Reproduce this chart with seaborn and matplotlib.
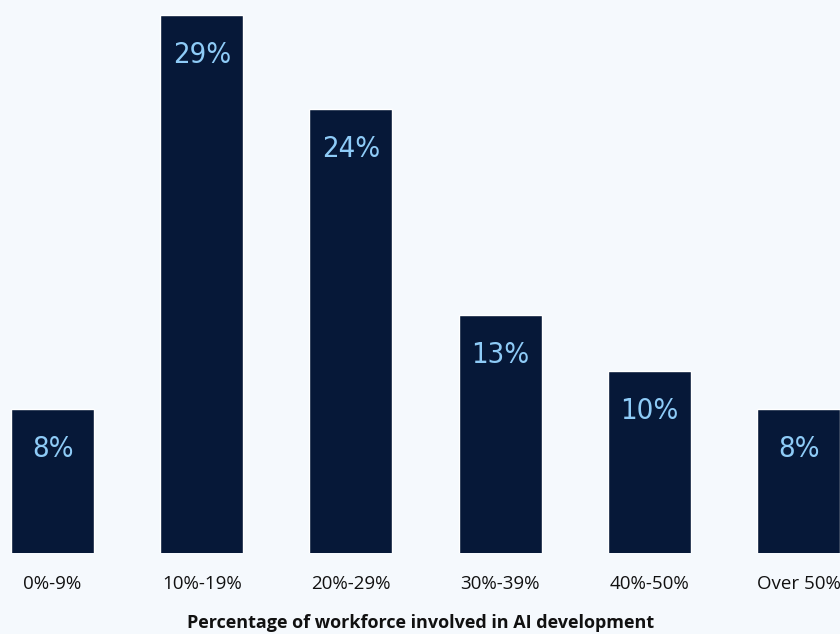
import matplotlib
matplotlib.use("Agg")
import matplotlib.pyplot as plt
import seaborn as sns
import pandas as pd

# Share of workforce involved in AI development
categories = ["0%-9%", "10%-19%", "20%-29%", "30%-39%", "40%-50%", "Over 50%"]
values = [8, 29, 24, 13, 10, 8]
value_labels = ["8%", "29%", "24%", "13%", "10%", "8%"]

BG = "#f5f9fd"
NAVY = "#061838"
LABEL_BLUE = "#8ecbf7"

sns.set_theme(style="white")
plt.rcParams["font.family"] = ["Open Sans", "DejaVu Sans"]

df = pd.DataFrame({"band": categories, "share": values})

fig = plt.figure(figsize=(8.4, 6.34), dpi=100, facecolor=BG)
ax = fig.add_axes([0, (634 - 553) / 634, 1, 553 / 634])
ax.set_facecolor(BG)

sns.barplot(data=df, x="band", y="share", color=NAVY, saturation=1,
            width=0.556, ax=ax)

ax.set_xlim(-0.352, 5.278)
ax.set_ylim(0.3, 29.79)
for s in ax.spines.values():
    s.set_visible(False)
ax.set_yticks([])
ax.set_ylabel("")
ax.set_xlabel("")
ax.tick_params(axis="x", length=0, pad=16, labelsize=13.5, labelcolor="#111111")

# value labels inside the top of each bar, in a narrow face
for i, (v, lab) in enumerate(zip(values, value_labels)):
    ax.annotate(lab, xy=(i, v), xytext=(0, -40), textcoords="offset pixels",
                ha="center", va="center", color=LABEL_BLUE, fontsize=21,
                family=["DejaVu Sans"], fontstretch="condensed")

fig.text(421 / 840, 5.5 / 634, "Percentage of workforce involved in AI development",
         ha="center", va="baseline", fontsize=13, fontweight="bold",
         color="#111111")

fig.savefig("out.png", dpi=100, facecolor=BG)
